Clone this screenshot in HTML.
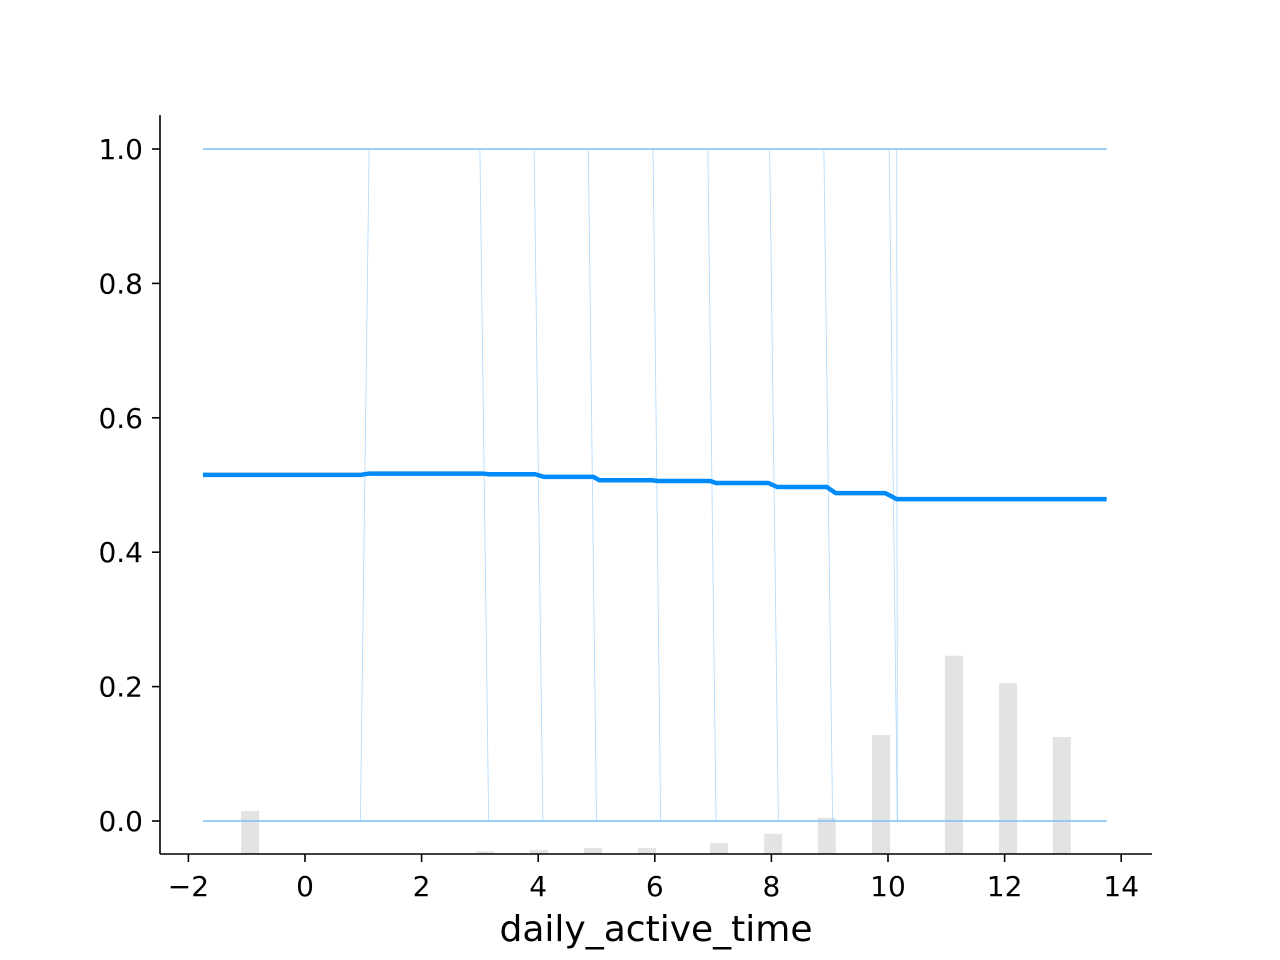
<!DOCTYPE html>
<html><head><meta charset="utf-8"><style>
html,body{margin:0;padding:0;background:#fff;}
svg{display:block;font-family:"DejaVu Sans","Liberation Sans",sans-serif;}
</style></head><body>
<svg id="chart" width="1280" height="960" viewBox="0 0 1280 960" xmlns="http://www.w3.org/2000/svg">
<g id="hist"></g>
<g id="ice"></g>
<g id="mean"></g>
<g id="axes"></g>
</svg>
<script>
const histX = [-0.94, 3.09, 4.01, 4.94, 5.87, 7.1, 8.03, 8.95, 9.88, 11.13, 12.06, 12.98];
const histH = [0.064, 0.004, 0.006, 0.009, 0.009, 0.016, 0.030, 0.054, 0.177, 0.295, 0.254, 0.174];
const meanX = [-1.75, 0.95, 1.1, 3.05, 3.15, 3.95, 4.1, 4.95, 5.05, 5.95, 6.05, 6.95, 7.05, 7.95, 8.1, 8.95, 9.1, 9.95, 10.15, 13.75];
const meanY = [0.515, 0.515, 0.517, 0.517, 0.516, 0.516, 0.512, 0.512, 0.507, 0.507, 0.506, 0.506, 0.503, 0.503, 0.497, 0.497, 0.488, 0.488, 0.479, 0.479];
const iceTopX = [1.1, 3.0, 3.93, 4.86, 5.97, 6.91, 7.97, 8.9, 10.02, 10.15];
const iceBotX = [0.95, 3.15, 4.08, 5.0, 6.1, 7.05, 8.12, 9.05, 10.16, 10.16];
const xTicks = [-2, 0, 2, 4, 6, 8, 10, 12, 14];
const yTicks = [0.0, 0.2, 0.4, 0.6, 0.8, 1.0];
const xMin=-1.75, xMax=13.75;

const X = v => 305 + v*58.3;
const Y = v => 821 - v*672;
const NS = "http://www.w3.org/2000/svg";
function mk(parent, tag, attrs){const e=document.createElementNS(NS,tag);for(const k in attrs)e.setAttribute(k,attrs[k]);parent.appendChild(e);return e;}

const hist=document.getElementById('hist');
histX.forEach((x,i)=>{
  const r=mk(hist,'rect',{x:X(x)-9,y:854-histH[i]*672,width:18,height:histH[i]*672,fill:'#e3e3e3'});
  
  
});

const ice=document.getElementById('ice');
[0,1].forEach(v=>{
  const l=mk(ice,'line',{x1:X(xMin),x2:X(xMax),y1:Y(v),y2:Y(v),stroke:'#7cc0f8','stroke-width':1.5});
  
  
});
iceTopX.forEach((t,i)=>{
  const l=mk(ice,'line',{x1:X(t),y1:Y(1),x2:X(iceBotX[i]),y2:Y(0),stroke:'#8cc8fb','stroke-width':0.8,opacity:0.7});
  
  
});

const mean=document.getElementById('mean');
const p=mk(mean,'polyline',{points:meanX.map((x,i)=>X(x)+','+Y(meanY[i])).join(' '),fill:'none',stroke:'#008bfb','stroke-width':4.5,'stroke-linejoin':'round'});



const ax=document.getElementById('axes');
mk(ax,'line',{x1:160,y1:115,x2:160,y2:854,stroke:'#000','stroke-width':1.6});
mk(ax,'line',{x1:160,y1:854,x2:1152,y2:854,stroke:'#000','stroke-width':1.6});
xTicks.forEach(t=>{
  mk(ax,'line',{x1:X(t),x2:X(t),y1:854,y2:862,stroke:'#000','stroke-width':1.6});
  const tx=mk(ax,'text',{x:X(t),y:896,'text-anchor':'middle','font-size':28});
  tx.textContent=t<0?'\u2212'+(-t):String(t);
  
  
});
yTicks.forEach(t=>{
  mk(ax,'line',{x1:152,x2:160,y1:Y(t),y2:Y(t),stroke:'#000','stroke-width':1.6});
  const tx=mk(ax,'text',{x:143,y:Y(t)+10,'text-anchor':'end','font-size':28});
  tx.textContent=t.toFixed(1);
  
  
});
const lab=mk(ax,'text',{x:656,y:941,'text-anchor':'middle','font-size':36});
lab.textContent='daily_active_time';


</script>
</body></html>
